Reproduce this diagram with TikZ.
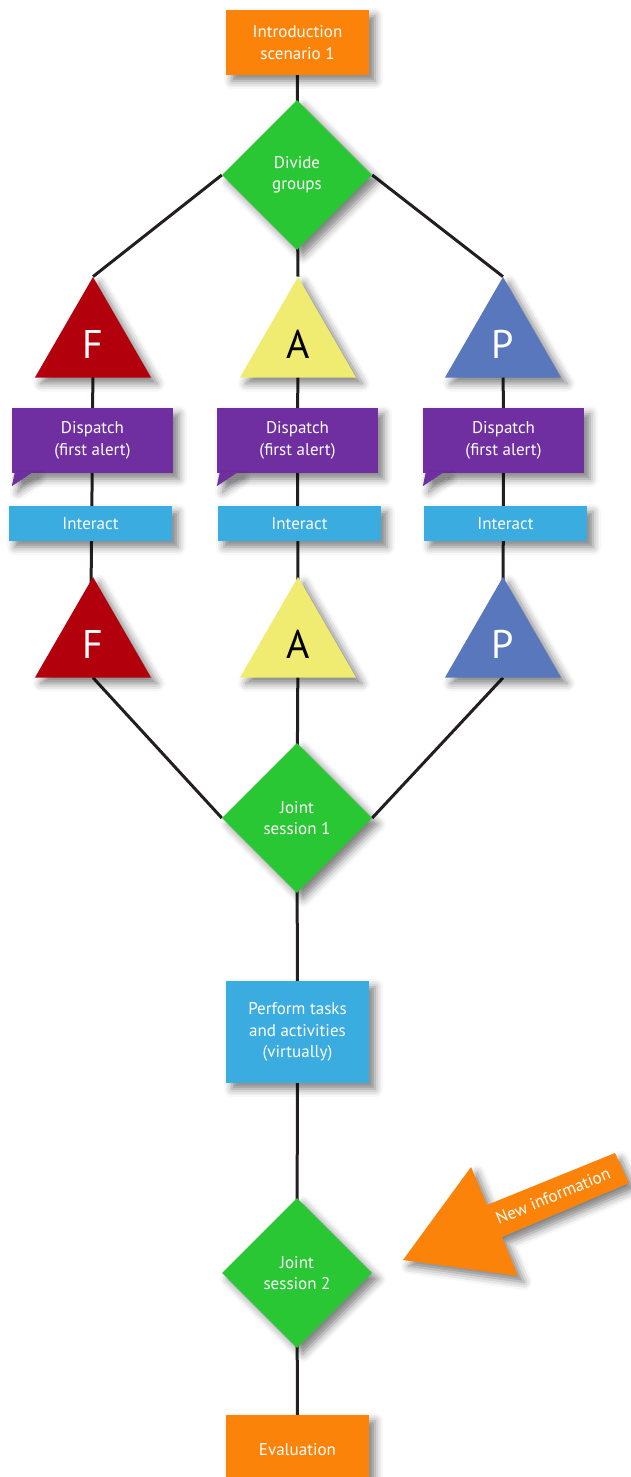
\documentclass[tikz,border=0pt]{standalone}
\usepackage{fontspec}
\setmainfont{PT Sans}
\usetikzlibrary{shapes.geometric,shadows.blur,calc}
\definecolor{orng}{HTML}{FB830A}
\definecolor{grn}{HTML}{2AC735}
\definecolor{redf}{HTML}{B3000D}
\definecolor{yela}{HTML}{F0EC72}
\definecolor{bluep}{HTML}{5877BD}
\definecolor{purp}{HTML}{6F2FA0}
\definecolor{lblue}{HTML}{3AACE0}
\definecolor{linec}{HTML}{231F20}
\pgfdeclarelayer{bg}
\pgfsetlayers{bg,main}
\begin{document}
\begin{tikzpicture}[x=1pt,y=-1pt,
  shad/.style={blur shadow={shadow xshift=6pt,shadow yshift=-6pt,shadow blur radius=8pt,shadow opacity=50}},
  txt/.style={text=white,font=\fontsize{17}{21.5}\selectfont,align=center,inner sep=0pt},
  boxn/.style={txt,rectangle,shad,minimum width=#1},
  diam/.style={txt,diamond,fill=grn,shad,minimum width=150pt,minimum height=150pt,aspect=1},
  tri/.style={regular polygon,regular polygon sides=3,minimum size=134pt,inner sep=0pt,shad,font=\fontsize{40}{40}\selectfont},
  bubble/.style={txt,fill=purp,shad,minimum width=161pt,minimum height=65pt},
  tail/.style={fill=purp,shad},
  inter/.style={txt,fill=lblue,shad,minimum width=163pt,minimum height=35pt},
  conn/.style={draw=linec,line width=3pt}]
\useasboundingbox (0,0) rectangle (630,1477);

\node[boxn=143pt,fill=orng,minimum height=65pt] (intro) at (297.5,42.5) {Introduction\\scenario 1};
\node[diam] (div) at (297,175) {Divide\\groups};

\node[tri,fill=redf,text=white] (F1) at (93,344) {F};
\node[tri,fill=yela,text=black] (A1) at (298,344) {A};
\node[tri,fill=bluep,text=white] (P1) at (503,344) {P};

\node[bubble] (dF) at (92.5,440.5) {Dispatch\\(first alert)};
\node[bubble] (dA) at (297.5,440.5) {Dispatch\\(first alert)};
\node[bubble] (dP) at (503.5,440.5) {Dispatch\\(first alert)};
\foreach \d in {dF,dA,dP}{
  \fill[tail] ($(\d.south west)+(3,-1)$) -- ($(\d.south west)+(21,-1)$) -- ($(\d.south west)+(0,13)$) -- cycle;
}

\node[inter] (iF) at (90.5,523.5) {Interact};
\node[inter] (iA) at (299.5,523.5) {Interact};
\node[inter] (iP) at (505.5,523.5) {Interact};

\node[tri,fill=redf,text=white] (F2) at (93,644) {F};
\node[tri,fill=yela,text=black] (A2) at (298,644) {A};
\node[tri,fill=bluep,text=white] (P2) at (503,644) {P};

\node[diam] (j1) at (297,818) {Joint\\session 1};
\node[boxn=143pt,fill=lblue,minimum height=102pt] (perf) at (297.5,1032) {Perform tasks\\and activities\\(virtually)};
\node[diam] (j2) at (297,1273) {Joint\\session 2};
\node[boxn=143pt,fill=orng,minimum height=70pt] (eval) at (297.5,1450) {Evaluation};

% new information arrow
\fill[orng,shad] (403,1260) -- (471,1167) -- (487,1205) -- (615,1153) -- (629,1183) -- (502,1237) -- (518,1276) -- cycle;
\node[txt,rotate=22.5] (newinfo) at (553,1196) {New information};

\begin{pgfonlayer}{bg}
  \draw[conn] (intro.center) -- (div.center);
  \draw[conn] (div.west) -- (F1.corner 1);
  \draw[conn] (div.center) -- (A1.corner 1);
  \draw[conn] (div.east) -- (P1.corner 1);
  \draw[conn] (F1.center) -- (dF.center) -- (iF.center |- F2.center);
  \draw[conn] (A1.center) -- (dA.center) -- (A2.center);
  \draw[conn] (P1.center) -- (dP.center) -- (P2.center);
  \draw[conn] (F2.side 2) -- (j1.west);
  \draw[conn] (A2.center) -- (j1.center);
  \draw[conn] (P2.side 2) -- (j1.east);
  \draw[conn] (j1.center) -- (perf.center) -- (j2.center) -- (eval.center);
\end{pgfonlayer}
\end{tikzpicture}
\end{document}
